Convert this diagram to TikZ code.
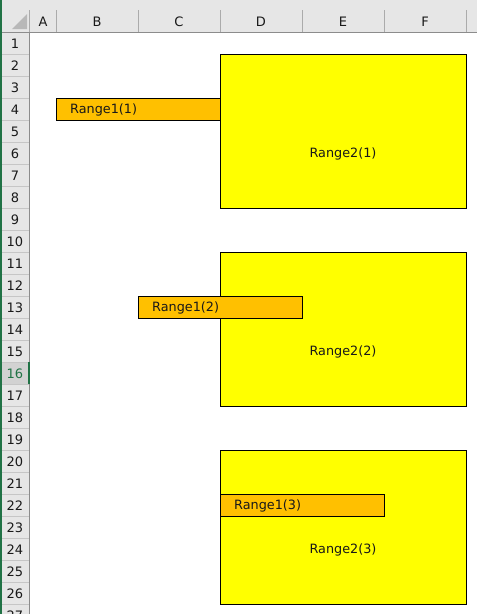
\documentclass[tikz,border=0pt]{standalone}
\usepackage{fontspec}
\setmainfont{DejaVu Sans}
\definecolor{hdrbg}{HTML}{E6E6E6}
\definecolor{hdrsel}{HTML}{D2D2D2}
\definecolor{hdrline}{HTML}{ABABAB}
\definecolor{hdrrow}{HTML}{C6C6C6}
\definecolor{xlgreen}{HTML}{217346}
\definecolor{rngyellow}{HTML}{FFFF00}
\definecolor{rngorange}{HTML}{FFC000}
\begin{document}
\begin{tikzpicture}[x=1pt,y=-1pt,
  hdrtext/.style={font=\fontsize{13}{15}\selectfont, text=black!90, inner sep=0pt},
  bigbox/.style={draw=black, line width=0.9pt, fill=rngyellow},
  smallbox/.style={draw=black, line width=0.9pt, fill=rngorange},
  boxtext/.style={font=\fontsize{12.8}{15}\selectfont, inner sep=0pt, text=black!90}]
\useasboundingbox (0,0) rectangle (477,614);
\fill[white] (0,0) rectangle (477,614);
% column header band
\fill[hdrbg] (0,0) rectangle (477,32);
% row header band
\fill[hdrbg] (0,32) rectangle (29.5,614);
% selected row 16
\fill[hdrsel] (0,362) rectangle (29.5,384);
% corner triangle
\fill[black!28] (27,14) -- (27,29) -- (12,29) -- cycle;
% column separators
\foreach \x in {56,138,220,302,384,466.5} \draw[hdrline, line width=0.8pt] (\x,10) -- (\x,32);
\draw[hdrline, line width=0.8pt] (29.5,10) -- (29.5,32);
\draw[black!45, line width=1pt] (0,32) -- (477,32);
% column letters
\foreach \c/\x in {A/43,B/97,C/179,D/261,E/343,F/425}
  \node[hdrtext] (col\c) at (\x,21.5) {\c};
% row separators and numbers
\begin{scope}
\clip (0,32) rectangle (30,614);
\foreach \r in {1,...,27} {
  \pgfmathsetmacro{\yy}{32+22*\r}
  \draw[hdrrow, line width=0.7pt] (0,\yy) -- (29.5,\yy);
}
\foreach \r in {1,...,15,17,18,...,27} {
  \pgfmathsetmacro{\yc}{32+22*\r-10.5}
  \node[hdrtext] (row\r) at (15,\yc) {\r};
}
\node[hdrtext, text=xlgreen] (row16) at (15,373.5) {16};
\end{scope}
\draw[black!45, line width=1pt] (29.5,32) -- (29.5,614);
\fill[xlgreen] (28,362) rectangle (30,384);
\fill[xlgreen] (0,0) rectangle (1.5,614);
% Range2 boxes
\node[bigbox, minimum width=246, minimum height=154, anchor=north west, inner sep=0pt] (r2a) at (220,54) {};
\node[bigbox, minimum width=246, minimum height=154, anchor=north west, inner sep=0pt] (r2b) at (220,252) {};
\node[bigbox, minimum width=246, minimum height=154, anchor=north west, inner sep=0pt] (r2c) at (220,450) {};
\node[boxtext] (t2a) at (343,154) {Range2(1)};
\node[boxtext] (t2b) at (343,352) {Range2(2)};
\node[boxtext] (t2c) at (343,550) {Range2(3)};
% Range1 boxes
\node[smallbox, minimum width=164, minimum height=22, anchor=north west, inner sep=0pt] (r1a) at (56,98) {};
\node[smallbox, minimum width=164, minimum height=22, anchor=north west, inner sep=0pt] (r1b) at (138,296) {};
\node[smallbox, minimum width=164, minimum height=22, anchor=north west, inner sep=0pt] (r1c) at (220,494) {};
\node[boxtext, anchor=west] (t1a) at (70,110) {Range1(1)};
\node[boxtext, anchor=west] (t1b) at (152,308) {Range1(2)};
\node[boxtext, anchor=west] (t1c) at (234,506) {Range1(3)};
\end{tikzpicture}
\end{document}
